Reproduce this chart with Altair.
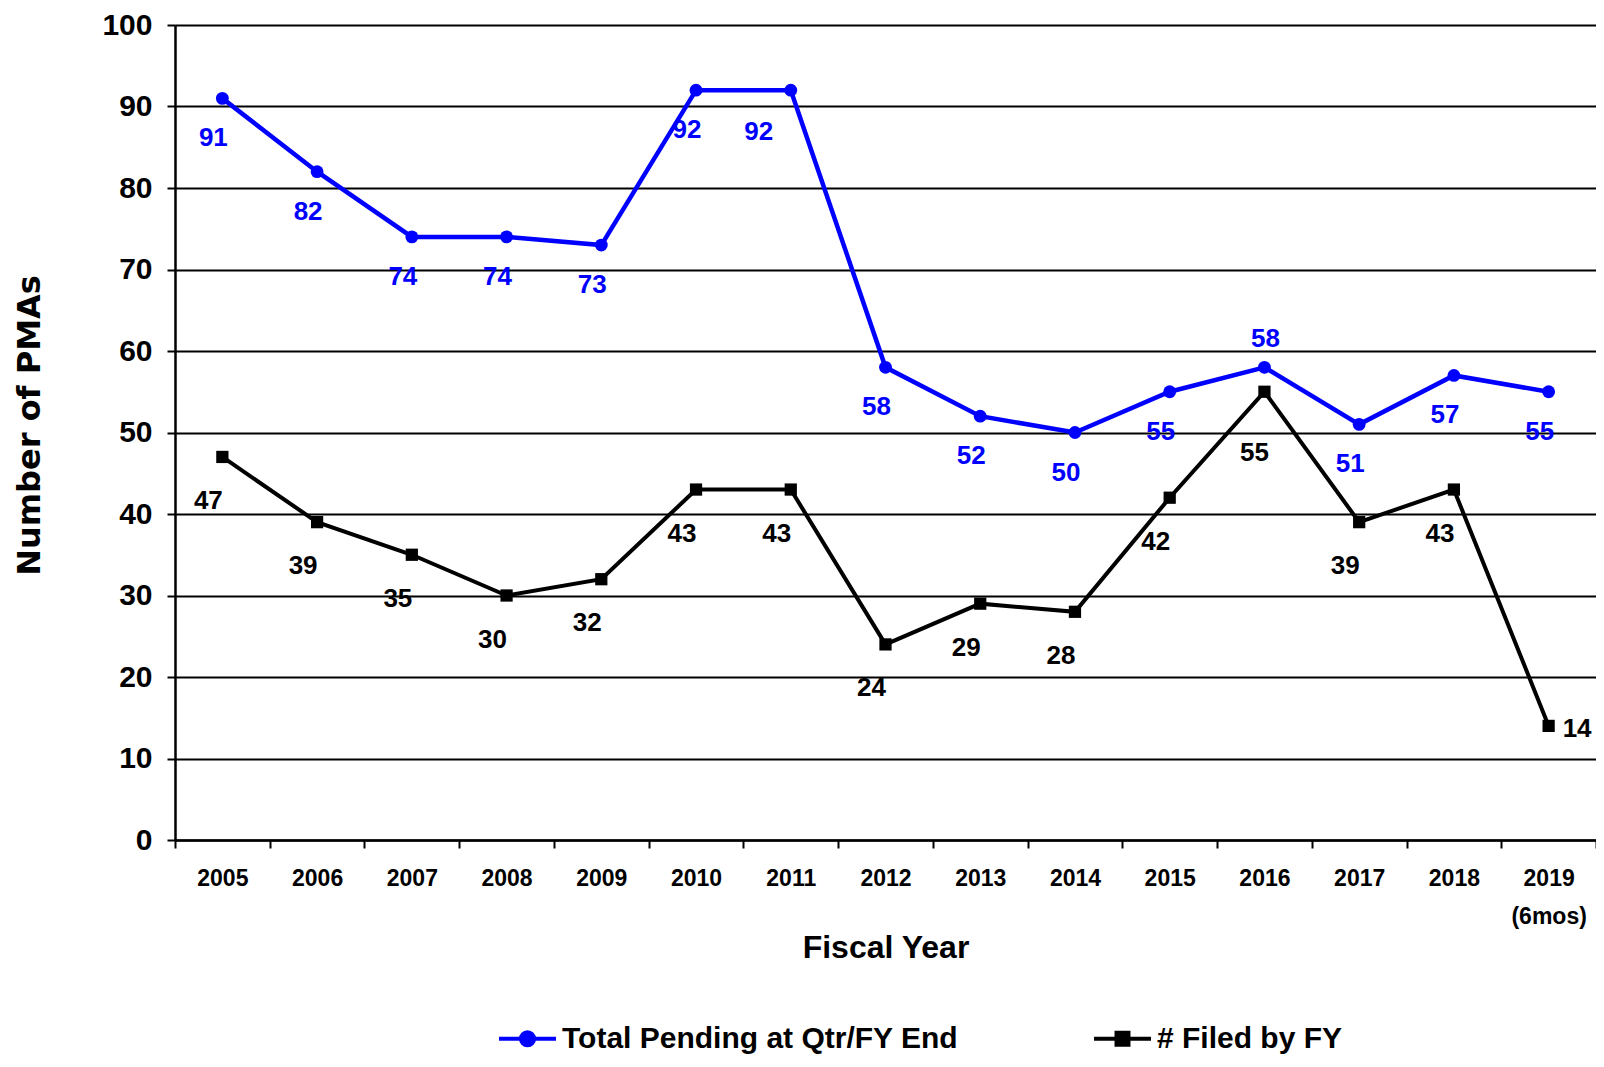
import altair as alt
import pandas as pd

# ---- data ----
years = ["2005", "2006", "2007", "2008", "2009", "2010", "2011", "2012",
         "2013", "2014", "2015", "2016", "2017", "2018", "2019"]
total_pending = [91, 82, 74, 74, 73, 92, 92, 58, 52, 50, 55, 58, 51, 57, 55]
filed_by_fy = [47, 39, 35, 30, 32, 43, 43, 24, 29, 28, 42, 55, 39, 43, 14]
series_names = ["Total Pending at Qtr/FY End", "# Filed by FY"]
series_colors = ["#0000FF", "#000000"]
y_ticks = [0, 10, 20, 30, 40, 50, 60, 70, 80, 90, 100]

rows = []
for i, yr in enumerate(years):
    rows.append({"year": yr, "series": series_names[0], "value": total_pending[i]})
    rows.append({"year": yr, "series": series_names[1], "value": filed_by_fy[i]})
df = pd.DataFrame(rows)

NARROW = "Liberation Sans Narrow, Arial Narrow, Liberation Sans, sans-serif"
BLUE, BLACK = series_colors

x_enc = alt.X(
    "year:N",
    bandPosition=0.5,
    scale=alt.Scale(type="band", paddingInner=0, paddingOuter=0),
    axis=alt.Axis(
        labelAngle=0, tickBand="extent", ticks=True, tickSize=8, tickWidth=2,
        tickColor="black", domainColor="black", domainWidth=2.5, grid=False,
        labelFont=NARROW, labelFontSize=23, labelFontWeight="bold", labelColor="black",
        labelPadding=19, labelLineHeight=38,
        labelExpr="datum.value == '2019' ? ['2019', '(6mos)'] : datum.label",
        title="Fiscal Year", titleFont=NARROW, titleFontSize=32, titleFontWeight="bold",
        titleColor="black", titleY=107, titleBaseline="middle",
    ),
)
y_enc = alt.Y(
    "value:Q",
    scale=alt.Scale(domain=[0, 100], nice=False, zero=True),
    axis=alt.Axis(
        values=y_ticks, grid=True, gridColor="black", gridWidth=2,
        domainColor="black", domainWidth=2.5, tickColor="black", tickWidth=2, tickSize=8,
        labelFont=NARROW, labelFontSize=30, labelFontWeight="bold", labelColor="black",
        labelPadding=15,
        title="Number of PMAs", titleFont="DejaVu Sans", titleFontSize=32,
        titleFontWeight="bold", titleColor="black", titleX=-146, titleY=400,
        titleAngle=270, titleBaseline="middle", titleAlign="center",
    ),
)

base = alt.Chart(df)


def sel(name):
    return f"datum.series == '{name}'"


line_total = base.mark_line(color=BLUE, strokeWidth=4.5).encode(x=x_enc, y=y_enc).transform_filter(sel(series_names[0]))
line_filed = base.mark_line(color=BLACK, strokeWidth=4).encode(x=x_enc, y=y_enc).transform_filter(sel(series_names[1]))
pts_total = base.mark_point(shape="circle", filled=True, size=165, color=BLUE, opacity=1).encode(x=x_enc, y=y_enc).transform_filter(sel(series_names[0]))
pts_filed = base.mark_point(shape="square", filled=True, size=150, color=BLACK, opacity=1).encode(x=x_enc, y=y_enc).transform_filter(sel(series_names[1]))


def labels(name, color, dx, dy, cond="true", align="center"):
    return base.mark_text(
        dx=dx, dy=dy, font=NARROW, fontSize=26, fontWeight="bold", color=color,
        align=align, baseline="middle",
    ).encode(x=x_enc, y=y_enc, text="value:Q").transform_filter(sel(name)).transform_filter(cond)


lab_total = labels(series_names[0], BLUE, -9, 40, "datum.year != '2016' && datum.year != '2011'")
lab_total_2016 = labels(series_names[0], BLUE, 1, -28, "datum.year == '2016'")
lab_total_2011 = labels(series_names[0], BLUE, -32, 42, "datum.year == '2011'")
lab_filed = labels(series_names[1], BLACK, -14, 44, "datum.year != '2016' && datum.year != '2019'")
lab_filed_2016 = labels(series_names[1], BLACK, -10, 61, "datum.year == '2016'")
lab_filed_2019 = labels(series_names[1], BLACK, 14, 3, "datum.year == '2019'", align="left")

legend_shapes = [
    "M-2,0H2M-0.46,0A0.46,0.46,0,1,1,0.46,0A0.46,0.46,0,1,1,-0.46,0Z",
    "M-2,0H2M-0.42,-0.42H0.42V0.42H-0.42Z",
]
leg = alt.Legend(
    title=None, orient="none", legendX=336, legendY=997, direction="horizontal",
    labelFont=NARROW, labelFontSize=30, labelFontWeight="bold", labelColor="black",
    symbolSize=812, symbolStrokeWidth=4, labelOffset=18, columnPadding=127,
    padding=0, symbolOpacity=1, labelLimit=0,
)
legend_layer = base.mark_point(filled=True, opacity=0).encode(
    x=x_enc, y=y_enc,
    fill=alt.Fill("series:N", scale=alt.Scale(domain=series_names, range=series_colors), legend=leg),
    stroke=alt.Stroke("series:N", scale=alt.Scale(domain=series_names, range=series_colors), legend=leg),
    shape=alt.Shape("series:N", scale=alt.Scale(domain=series_names, range=legend_shapes), legend=leg),
)

chart = alt.layer(
    line_total, line_filed, pts_total, pts_filed,
    lab_total, lab_total_2016, lab_total_2011,
    lab_filed, lab_filed_2016, lab_filed_2019,
    legend_layer,
).properties(
    width=1421, height=815,
    autosize=alt.AutoSizeParams(type="none"),
    padding={"left": 167, "top": 17, "right": 0, "bottom": 219},
).configure_view(
    stroke="black", strokeWidth=2,
).configure(background="white")

chart.save("out.html", embed_options={"renderer": "svg", "actions": False})
